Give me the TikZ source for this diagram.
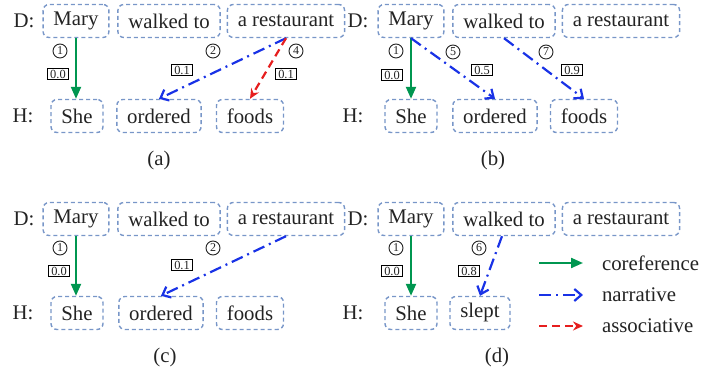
\documentclass[tikz,border=0pt]{standalone}
\usepackage{fontspec}
\setmainfont{Liberation Serif}
\usepackage{tikz}
\usetikzlibrary{shapes,arrows.meta,positioning}
\definecolor{boxblue}{RGB}{120,150,200}
\definecolor{corefgreen}{RGB}{0,150,80}
\definecolor{narrblue}{RGB}{25,50,230}
\definecolor{assocred}{RGB}{230,30,30}
\definecolor{inkgray}{RGB}{35,35,35}

\begin{document}
\begin{tikzpicture}
  [
    x=0.5pt, y=-0.5pt,
    Word/.style={draw=boxblue, dash pattern=on 2pt off 1.5pt, rounded corners=3pt, line width=0.7pt,
      inner xsep=5.2pt, minimum height=16.5pt, text=inkgray, font=\fontsize{10.4}{12}\selectfont},
    Side/.style={text=inkgray, font=\fontsize{10.4}{12}\selectfont},
    Num/.style={circle, draw=inkgray, line width=0.45pt, inner sep=0pt, minimum size=7pt, text=inkgray,
      font=\fontsize{6}{6}\selectfont},
    Score/.style={rectangle, draw=black, fill=white, line width=0.7pt, inner xsep=1.3pt, inner ysep=0.7pt,
      text=inkgray, font=\fontsize{6.2}{6}\selectfont},
    Coref/.style={-{Triangle[length=6pt, width=5pt]}, draw=corefgreen, line width=1.1pt},
    Narr/.style={-{Straight Barb[length=3.5pt, width=6pt]}, draw=narrblue, line width=1.1pt,
      dash pattern=on 6pt off 2.5pt on 1pt off 2.5pt},
    Assoc/.style={-{Stealth[length=5pt, width=4.5pt]}, draw=assocred, line width=1.1pt,
      dash pattern=on 4pt off 2.5pt}
  ]
  \useasboundingbox (0,0) rectangle (708,373);

  % (a)
  \node[Side] (aD) at (24, 21) {D:};
  \node[Word] (aMary) at (76, 21) {Mary};
  \node[Word] (aWalk) at (169, 21) {walked to};
  \node[Word] (aRest) at (286, 21) {a restaurant};
  \node[Side] (aH) at (23, 116) {H:};
  \node[Word] (aShe) at (77, 116) {She};
  \node[Word] (aOrd) at (159, 116) {ordered};
  \node[Word] (aFood) at (250, 116) {foods};
  \node[Num] (aN1) at (60, 51) {1};
  \node[Score] (aS1) at (58, 74) {0.0};
  \node[Num] (aN2) at (213, 51) {2};
  \node[Score] (aS2) at (182, 70) {0.1};
  \node[Num] (aN4) at (296, 51) {4};
  \node[Score] (aS4) at (286, 74) {0.1};
  \node[Side] (aCap) at (159, 161) {(a)};
  \path[Coref] (aMary.south) -- (aMary.south |- aShe.north);
  \path[Narr] (aRest.south) -- (aOrd.north);
  \path[Assoc] (aRest.south) -- (aFood.north);

  % (b)
  \node[Side] (bD) at (358, 21) {D:};
  \node[Word] (bMary) at (411, 21) {Mary};
  \node[Word] (bWalk) at (504, 21) {walked to};
  \node[Word] (bRest) at (621, 21) {a restaurant};
  \node[Side] (bH) at (353, 116) {H:};
  \node[Word] (bShe) at (411, 116) {She};
  \node[Word] (bOrd) at (495, 116) {ordered};
  \node[Word] (bFood) at (584, 116) {foods};
  \node[Num] (bN1) at (396, 51) {1};
  \node[Score] (bS1) at (392, 75) {0.0};
  \node[Num] (bN5) at (453, 52) {5};
  \node[Score] (bS5) at (482, 70) {0.5};
  \node[Num] (bN7) at (546, 52) {7};
  \node[Score] (bS7) at (572, 70) {0.9};
  \node[Side] (bCap) at (493, 161) {(b)};
  \path[Coref] (bMary.south) -- (bShe.north);
  \path[Narr] (bMary.south) -- (bOrd.north);
  \path[Narr] (bWalk.south) -- (bFood.north);

  % (c)
  \node[Side] (cD) at (24, 219) {D:};
  \node[Word] (cMary) at (76, 219) {Mary};
  \node[Word] (cWalk) at (169, 219) {walked to};
  \node[Word] (cRest) at (286, 219) {a restaurant};
  \node[Side] (cH) at (23, 313) {H:};
  \node[Word] (cShe) at (77, 313) {She};
  \node[Word] (cOrd) at (161, 313) {ordered};
  \node[Word] (cFood) at (250, 313) {foods};
  \node[Num] (cN1) at (60, 248) {1};
  \node[Score] (cS1) at (59, 271) {0.0};
  \node[Num] (cN2) at (213, 248) {2};
  \node[Score] (cS2) at (182, 265) {0.1};
  \node[Side] (cCap) at (165, 358) {(c)};
  \path[Coref] (cMary.south) -- (cMary.south |- cShe.north);
  \path[Narr] (cRest.south) -- (cOrd.north);

  % (d)
  \node[Side] (dD) at (358, 219) {D:};
  \node[Word] (dMary) at (411, 219) {Mary};
  \node[Word] (dWalk) at (504, 219) {walked to};
  \node[Word] (dRest) at (621, 219) {a restaurant};
  \node[Side] (dH) at (353, 313) {H:};
  \node[Word] (dShe) at (411, 313) {She};
  \node[Word] (dSlept) at (480, 313) {slept};
  \node[Num] (dN1) at (396, 248) {1};
  \node[Score] (dS1) at (392, 271) {0.0};
  \node[Num] (dN6) at (479, 248) {6};
  \node[Score] (dS6) at (469, 271) {0.8};
  \node[Side] (dCap) at (497, 358) {(d)};
  \path[Coref] (dMary.south) -- (dShe.north);
  \path[Narr] ([xshift=-1pt]dWalk.south) -- (dSlept.north);

  % legend
  \node[Side, anchor=west] (lgCoref) at (595, 263) {coreference};
  \node[Side, anchor=west] (lgNarr) at (595, 295) {narrative};
  \node[Side, anchor=west] (lgAssoc) at (595, 326) {associative};
  \coordinate (lgC) at (539, 263);
  \coordinate (lgN) at (539, 295);
  \coordinate (lgA) at (539, 326);
  \path[Coref] (lgC) -- ([xshift=-6pt]lgCoref.west);
  \path[Narr] (lgN) -- ([xshift=-6pt]lgNarr.west);
  \path[Assoc] (lgA) -- ([xshift=-6pt]lgAssoc.west);
\end{tikzpicture}
\end{document}
